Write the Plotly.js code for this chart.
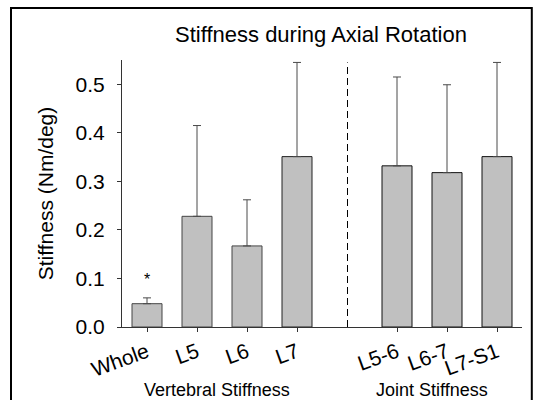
<!DOCTYPE html>
<html>
<head>
<meta charset="utf-8">
<script src="https://cdn.plot.ly/plotly-3.0.1.min.js"></script>
<style>
  html, body { margin: 0; padding: 0; background: #fff; }
  #chart { width: 535px; height: 400px; }
</style>
</head>
<body>
<div id="chart"></div>
<script>
// Segment labels and their slots on the category axis (slot 4 is the divider gap)
const categories = ["Whole", "L5", "L6", "L7", "L5-6", "L6-7", "L7-S1"];
const positions = [0, 1, 2, 3, 5, 6, 7];

// Mean stiffness (Nm/deg) and the top of each one-sided error bar
const meanStiffness = [0.048, 0.228, 0.167, 0.351, 0.332, 0.318, 0.351];
const upperLimit = [0.060, 0.415, 0.262, 0.545, 0.515, 0.499, 0.545];

// Group captions under the axis
const groupNames = ["Vertebral Stiffness", "Joint Stiffness"];
const groupCenters = [1.4, 5.7];

const errPlus = meanStiffness.map((m, i) => upperLimit[i] - m);
const FONT = "Liberation Sans, Arial, Helvetica, sans-serif";

const bars = {
  type: "bar",
  x: positions,
  y: meanStiffness,
  width: 0.6,
  marker: {
    color: "#c0c0c0",
    line: { color: ["#444", "#444", "#444", "#222", "#111", "#111", "#111"], width: 1 }
  },
  error_y: {
    type: "data",
    symmetric: false,
    array: errPlus,
    arrayminus: meanStiffness.map(() => 0),
    color: "#4a4a4a",
    thickness: 1,
    width: 4
  },
  hoverinfo: "x+y",
  showlegend: false
};

const annotations = groupNames.map((name, i) => ({
  text: name,
  xref: "x", yref: "paper",
  x: groupCenters[i], y: -0.235,
  xanchor: "center", yanchor: "middle",
  showarrow: false,
  font: { family: FONT, size: 18, color: "#000" }
}));

// significance marker above the whole-spine bar
annotations.push({
  text: "*",
  xref: "x", yref: "y",
  x: positions[0], y: upperLimit[0] + 0.038,
  xanchor: "center", yanchor: "middle",
  showarrow: false,
  font: { family: FONT, size: 16, color: "#000" }
});

const layout = {
  width: 535,
  height: 400,
  margin: { l: 122, r: 13, t: 60, b: 73, pad: 0 },
  paper_bgcolor: "#ffffff",
  plot_bgcolor: "#ffffff",
  font: { family: FONT, size: 21, color: "#000" },
  title: {
    text: "Stiffness during Axial Rotation",
    font: { family: FONT, size: 22, color: "#000" },
    x: 0.6, xanchor: "center",
    y: 0.915, yanchor: "middle"
  },
  xaxis: {
    range: [-0.5, 7.5],
    tickvals: positions,
    ticktext: categories,
    tickangle: -20,
    ticks: "outside",
    ticklen: 4,
    tickcolor: "#333",
    showline: true,
    linecolor: "#333",
    linewidth: 1,
    showgrid: false,
    zeroline: false,
    tickfont: { family: FONT, size: 21, color: "#000" },
    fixedrange: true
  },
  yaxis: {
    range: [0, 0.55],
    dtick: 0.1,
    tick0: 0,
    tickformat: ".1f",
    ticks: "outside",
    ticklen: 4,
    tickcolor: "#333",
    showline: true,
    linecolor: "#333",
    linewidth: 1,
    showgrid: false,
    zeroline: false,
    tickfont: { family: FONT, size: 21, color: "#000" },
    ticklabelstandoff: 8,
    title: {
      text: "Stiffness (Nm/deg)",
      font: { family: FONT, size: 21, color: "#000" },
      standoff: 16
    },
    fixedrange: true
  },
  shapes: [
    // divider between vertebral and joint groups
    {
      type: "line", xref: "x", yref: "y",
      x0: 4.01, x1: 4.01, y0: 0, y1: 0.545,
      line: { color: "#000", width: 1, dash: "7px,4px" }
    },
    // figure frame
    {
      type: "rect", xref: "paper", yref: "paper",
      x0: -0.2775, x1: 1.0245, y0: -0.29, y1: 1.1945,
      line: { color: "#000", width: 2 },
      fillcolor: "rgba(0,0,0,0)"
    }
  ],
  annotations: annotations,
  bargap: 0.4
};

Plotly.newPlot("chart", [bars], layout, { displayModeBar: false, staticPlot: true });
</script>
</body>
</html>
